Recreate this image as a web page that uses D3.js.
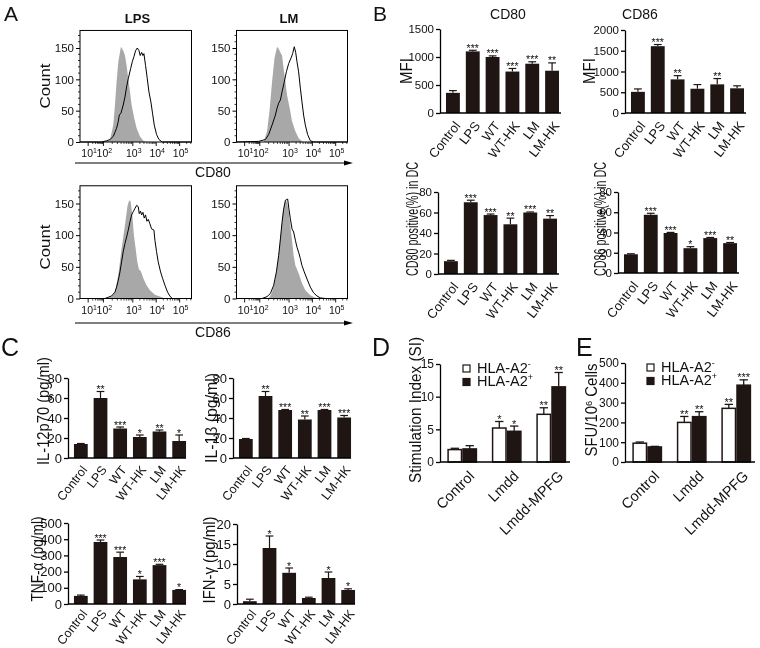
<!DOCTYPE html>
<html><head><meta charset="utf-8">
<script src="https://cdn.jsdelivr.net/npm/d3@7"></script>
<style>
body{margin:0;background:#fff;}
svg{will-change:transform;}
svg text{font-family:'Liberation Sans',Arial,sans-serif;fill:#111;}
</style></head><body>
<script>
// ---------------- DATA ----------------
// Panel A: flow cytometry histograms, [display channel (0-1024), count]
const histDecades = [1, 2, 3, 4, 5];
const histDecadeChannels = [75, 215, 485, 700, 915];
const histYTicks = [0, 50, 100, 150];
const lpsCD80Ctrl = [[0,0],[200,0],[240,1],[275,3],[306,27],[321,59],[336,96],[352,128],[376,152],[397,146],[413,138],[428,122],[443,101],[459,80],[474,59],[498,38],[520,22],[550,9],[581,2],[611,0],[1024,0]];
const lpsCD80Trt = [[0,0],[199,0],[245,2],[275,4],[306,9],[336,22],[352,33],[361,43],[376,46],[397,59],[413,72],[428,88],[443,101],[465,117],[480,128],[495,136],[511,146],[526,150],[541,146],[553,138],[566,143],[578,138],[587,141],[602,122],[618,101],[633,80],[651,64],[666,46],[682,27],[703,12],[725,4],[755,0],[1024,0]];
const lmCD80Ctrl = [[0,0],[251,0],[282,17],[307,54],[328,96],[350,133],[374,152],[389,149],[405,143],[420,138],[435,117],[451,96],[466,75],[491,54],[512,33],[543,17],[573,6],[604,1],[620,0],[1024,0]];
const lmCD80Trt = [[0,0],[205,1],[267,4],[297,12],[328,27],[359,43],[374,54],[389,62],[405,67],[420,80],[441,96],[460,112],[481,125],[503,134],[518,141],[533,152],[546,143],[558,128],[573,112],[589,86],[604,64],[619,43],[635,27],[656,12],[681,2],[711,0],[1024,0]];
const lpsCD86Ctrl = [[0,0],[230,0],[260,1],[290,3],[321,10],[352,37],[382,79],[413,116],[437,147],[452,155],[465,153],[480,132],[495,100],[511,79],[526,58],[541,46],[559,43],[581,32],[611,21],[642,13],[688,6],[734,3],[780,0],[1024,0]];
const lpsCD86Trt = [[0,0],[229,0],[260,2],[290,4],[321,10],[336,18],[352,29],[367,42],[382,58],[397,74],[413,87],[428,97],[443,108],[459,121],[474,132],[489,137],[504,142],[520,147],[535,145],[544,134],[556,138],[566,132],[578,136],[590,127],[602,132],[614,122],[627,125],[642,118],[657,110],[679,108],[688,92],[703,74],[718,58],[740,42],[758,32],[780,21],[804,10],[825,4],[847,0],[1024,0]];
const lmCD86Ctrl = [[0,0],[297,0],[328,10],[359,31],[389,68],[411,105],[429,137],[451,155],[466,152],[481,139],[497,115],[512,92],[527,68],[543,52],[558,46],[579,37],[604,24],[635,13],[681,5],[727,1],[757,0],[1024,0]];
const lmCD86Trt = [[0,0],[236,0],[282,3],[313,8],[343,21],[368,42],[389,68],[405,94],[420,120],[435,141],[451,155],[472,157],[484,141],[497,126],[512,110],[527,105],[543,92],[558,81],[573,73],[589,63],[604,52],[625,42],[650,31],[681,18],[711,9],[742,4],[773,1],[819,0],[1024,0]];

// Panels B, C
const treatGroups = ["Control","LPS","WT","WT-HK","LM","LM-HK"];
const cd80Mfi = [360,1100,1000,740,880,755];
const cd80MfiErr = [40,20,20,55,35,140];
const cd80MfiSig = ["","***","***","***","***","**"];
const cd86Mfi = [510,1610,810,585,690,595];
const cd86MfiErr = [70,40,90,100,140,60];
const cd86MfiSig = ["","***","**","","**",""];
const cd80Pos = [12.5,70,57.5,48.5,60,54];
const cd80PosErr = [0.8,2,1,6,0.5,3];
const cd80PosSig = ["","***","***","**","***","**"];
const cd86Pos = [18.5,57.5,39.5,24.5,34.5,29.5];
const cd86PosErr = [0.5,1.5,0.6,1.5,0.6,0.6];
const cd86PosSig = ["","***","***","*","***","**"];
const il12 = [14,60,29.5,21,26.5,17];
const il12Err = [0.5,6.5,1.5,2,1.5,6];
const il12Sig = ["","**","***","*","**","*"];
const il1b = [19,62,48,38.5,48,40.5];
const il1bErr = [0.5,4.5,0.5,3.5,0.5,2];
const il1bSig = ["","**","***","**","***","***"];
const tnf = [50,383,290,152,240,87];
const tnfErr = [5,12,30,18,5,2];
const tnfSig = ["","***","***","*","***","*"];
const ifn = [0.7,14,7.8,1.5,6.5,3.5];
const ifnErr = [0.5,3,1.2,0.2,1.5,0.3];
const ifnSig = ["","*","*","","*","*"];

// Panels D, E
const vaccineGroups = ["Control","Lmdd","Lmdd-MPFG"];
const hlaSeries = ["neg","pos"];
const siNeg = [1.9,5.2,7.3];
const siNegErr = [0.2,1.0,1.0];
const siNegSig = ["","*","**"];
const siPos = [2.0,4.7,11.5];
const siPosErr = [0.5,0.8,2.2];
const siPosSig = ["","*","**"];
const sfuNeg = [95,200,271];
const sfuNegErr = [6,30,20];
const sfuNegSig = ["","**","**"];
const sfuPos = [76,229,388];
const sfuPosErr = [3,25,27];
const sfuPosSig = ["","**","***"];

// ---------------- DRAWING ----------------
const BAR = "#1f1614";
const FONT = "'Liberation Sans',Arial,sans-serif";
const svg = d3.select("body").append("svg").attr("width",760).attr("height",648);
svg.append("rect").attr("width",760).attr("height",648).attr("fill","#fff");

function letter(t,x,y,size){
  svg.append("text").attr("x",x).attr("y",y).attr("font-size",size).text(t);
}
function yLabel(x,cy,size,len,build){
  const t = svg.append("text").attr("transform",`translate(${x},${cy}) rotate(-90)`)
    .attr("text-anchor","middle").attr("dy","0.35em").attr("font-size",size);
  build(t);
  if(len) t.attr("textLength",len).attr("lengthAdjust","spacingAndGlyphs");
  return t;
}
function supText(t, base, sup, rest){
  t.append("tspan").text(base);
  t.append("tspan").attr("dy","-0.45em").attr("font-size","0.62em").text(sup);
  if(rest) t.append("tspan").attr("dy","0.28em").text(rest);
}

// ---- Panel A ----
letter("A",4,21,21);
const histYMax = 178;
function histPanel(box, ctrl, trt){
  const g = svg.append("g");
  const x = d3.scaleLinear().domain([0,1024]).range([box.l, box.r]);
  const y = d3.scaleLinear().domain([0,150]).range([box.b, box.y150]);
  g.append("path").datum(ctrl)
    .attr("d", d3.area().x(d=>x(d[0])).y0(y(0)).y1(d=>y(d[1])))
    .attr("fill","#a8a8a8");
  g.append("path").datum(trt)
    .attr("d", d3.line().x(d=>x(d[0])).y(d=>y(d[1])))
    .attr("fill","none").attr("stroke","#000").attr("stroke-width",1);
  g.append("rect").attr("x",box.l).attr("y",y(histYMax)).attr("width",box.r-box.l)
    .attr("height",y(0)-y(histYMax)).attr("fill","none").attr("stroke","#000").attr("stroke-width",1);
  const ya = g.append("g").attr("transform",`translate(${box.l},0)`)
    .call(d3.axisLeft(y).tickValues(histYTicks).tickSize(4).tickPadding(2).tickFormat(d3.format("d")));
  ya.select(".domain").remove();
  ya.selectAll("text").attr("font-size",11.5).attr("font-family",FONT).attr("fill","#111");
  const minorY = d3.range(0,171,10).filter(v=>v%50!==0);
  g.selectAll("line.my").data(minorY).join("line")
    .attr("x1",box.l-2).attr("x2",box.l).attr("y1",d=>y(d)).attr("y2",d=>y(d))
    .attr("stroke","#000").attr("stroke-width",0.8);
  const minorX = [];
  for(let k=0;k<histDecades.length-1;k++){
    for(let m=2;m<10;m++){
      minorX.push(histDecadeChannels[k] + Math.log10(m)*(histDecadeChannels[k+1]-histDecadeChannels[k]));
    }
  }
  for(let m=2;m<10;m++){ const c = histDecadeChannels[4] + Math.log10(m)*215; if(c<1024) minorX.push(c); }
  g.selectAll("line.mx").data(minorX).join("line")
    .attr("x1",d=>x(d)).attr("x2",d=>x(d)).attr("y1",box.b).attr("y2",box.b+2)
    .attr("stroke","#000").attr("stroke-width",0.7);
  g.selectAll("line.Mx").data(histDecadeChannels).join("line")
    .attr("x1",d=>x(d)).attr("x2",d=>x(d)).attr("y1",box.b).attr("y2",box.b+4)
    .attr("stroke","#000").attr("stroke-width",0.9);
  histDecades.forEach((dec,i)=>{
    const t = g.append("text").attr("x",x(histDecadeChannels[i])+1).attr("y",box.b+15)
      .attr("text-anchor","middle").attr("font-size",10.5);
    t.append("tspan").text("10");
    t.append("tspan").attr("dy",-4).attr("font-size",7).text(String(dec));
  });
}
histPanel({l:80,r:191.5,b:142,y150:48}, lpsCD80Ctrl, lpsCD80Trt);
histPanel({l:236.5,r:347.5,b:142,y150:48}, lmCD80Ctrl, lmCD80Trt);
histPanel({l:80,r:191.5,b:298.5,y150:203.5}, lpsCD86Ctrl, lpsCD86Trt);
histPanel({l:236.5,r:347.5,b:298.5,y150:203.5}, lmCD86Ctrl, lmCD86Trt);
svg.append("text").attr("x",137.5).attr("y",23).attr("text-anchor","middle").attr("font-size",13).attr("font-weight","bold").text("LPS");
svg.append("text").attr("x",289).attr("y",23).attr("text-anchor","middle").attr("font-size",13).attr("font-weight","bold").text("LM");
yLabel(45,86,15,45,t=>t.text("Count"));
yLabel(45,247,15,45,t=>t.text("Count"));
function arrow(y,label){
  svg.append("line").attr("x1",75).attr("x2",346).attr("y1",y).attr("y2",y).attr("stroke","#000").attr("stroke-width",1);
  svg.append("path").attr("d",`M344,${y-2.5}L353,${y}L344,${y+2.5}Z`).attr("fill","#000");
  svg.append("text").attr("x",213).attr("y",y+14).attr("text-anchor","middle").attr("font-size",14).text(label);
}
arrow(163,"CD80");
arrow(323,"CD86");

// ---- Bar chart helper ----
function barChart(o){
  const g = svg.append("g");
  const y = d3.scaleLinear().domain([0,o.max]).range([o.y0,o.yTop]);
  const x = d3.scaleBand().domain(o.cats).range([o.ax+o.b0,o.ax+o.b1]).paddingInner(0.3).paddingOuter(0.1);
  const bw = x.bandwidth();
  const rows = o.cats.map((c,i)=>({c, v:o.vals[i], e:o.errs[i], s:o.sig[i]}));
  g.selectAll("line.err").data(rows).join("line")
    .attr("x1",d=>x(d.c)+bw/2).attr("x2",d=>x(d.c)+bw/2)
    .attr("y1",d=>y(d.v)).attr("y2",d=>y(d.v+d.e)).attr("stroke",BAR).attr("stroke-width",1.2);
  g.selectAll("line.cap").data(rows).join("line")
    .attr("x1",d=>x(d.c)+bw*0.22).attr("x2",d=>x(d.c)+bw*0.78)
    .attr("y1",d=>y(d.v+d.e)).attr("y2",d=>y(d.v+d.e)).attr("stroke",BAR).attr("stroke-width",1.2);
  g.selectAll("rect.bar").data(rows).join("rect")
    .attr("x",d=>x(d.c)).attr("y",d=>y(d.v)).attr("width",bw).attr("height",d=>y(0)-y(d.v)).attr("fill",BAR);
  g.selectAll("text.sig").data(rows).join("text")
    .attr("x",d=>x(d.c)+bw/2).attr("y",d=>y(d.v+d.e)+o.starDy).attr("text-anchor","middle")
    .attr("font-size",o.starSize).attr("fill","#111").text(d=>d.s);
  const ya = g.append("g").attr("transform",`translate(${o.ax},0)`)
    .call(d3.axisLeft(y).tickValues(o.ticks).tickSize(4).tickPadding(2).tickSizeOuter(0).tickFormat(d3.format("d")));
  ya.selectAll("path,line").attr("stroke","#000").attr("stroke-width",1.3);
  ya.selectAll("text").attr("font-size",o.tickSize).attr("font-family",FONT).attr("fill","#111");
  g.append("line").attr("x1",o.ax).attr("x2",o.ax+o.axLen).attr("y1",o.y0).attr("y2",o.y0).attr("stroke","#000").attr("stroke-width",1.3);
  g.selectAll("text.cat").data(o.cats).join("text")
    .attr("transform",d=>`translate(${x(d)+bw/2+o.catDx},${o.y0+o.catDy}) rotate(${o.catAngle})`)
    .attr("text-anchor","end").attr("font-size",o.catSize).text(d=>d);
}

// ---- Panel B ----
letter("B",373,21,21);
svg.append("text").attr("x",508).attr("y",19).attr("text-anchor","middle").attr("font-size",14).text("CD80");
svg.append("text").attr("x",640).attr("y",19).attr("text-anchor","middle").attr("font-size",14).text("CD86");
const bCommon = {cats:treatGroups,b0:4,b1:121,axLen:121,tickSize:11.5,starSize:10.5,starDy:1.5,catDx:8,catDy:13,catAngle:-52,catSize:13};
barChart({...bCommon,ax:440,y0:113,yTop:29,max:1500,ticks:[0,500,1000,1500],vals:cd80Mfi,errs:cd80MfiErr,sig:cd80MfiSig});
barChart({...bCommon,ax:625,y0:113,yTop:30,max:2000,ticks:[0,500,1000,1500,2000],vals:cd86Mfi,errs:cd86MfiErr,sig:cd86MfiSig});
barChart({...bCommon,ax:438,y0:274,yTop:192,max:80,ticks:[0,20,40,60,80],vals:cd80Pos,errs:cd80PosErr,sig:cd80PosSig});
barChart({...bCommon,ax:618,y0:273,yTop:192,max:80,ticks:[0,20,40,60,80],vals:cd86Pos,errs:cd86PosErr,sig:cd86PosSig});
yLabel(406,71,16,26,t=>t.text("MFI"));
yLabel(589,71,16,26,t=>t.text("MFI"));
yLabel(412,219,16,114,t=>t.text("CD80 positive(%) in DC"));
yLabel(600,219,16,114,t=>t.text("CD86 positive(%) in DC"));

// ---- Panel C ----
letter("C",1,356,25);
const cCommon = {cats:treatGroups,b0:4,b1:120,axLen:118,tickSize:13,starSize:10.5,starDy:1.5,catDx:7,catDy:12,catAngle:-52,catSize:12.5};
barChart({...cCommon,ax:68,y0:458,yTop:378,max:80,ticks:[0,20,40,60,80],vals:il12,errs:il12Err,sig:il12Sig});
barChart({...cCommon,ax:233,y0:458,yTop:378,max:80,ticks:[0,20,40,60,80],vals:il1b,errs:il1bErr,sig:il1bSig});
barChart({...cCommon,ax:68,y0:604,yTop:523,max:500,ticks:[0,100,200,300,400,500],vals:tnf,errs:tnfErr,sig:tnfSig,catDy:10});
barChart({...cCommon,ax:237,y0:604,yTop:524,max:20,ticks:[0,5,10,15,20],vals:ifn,errs:ifnErr,sig:ifnSig,catDy:10});
yLabel(43,411,16.5,108,t=>t.text("IL-12p70 (pg/ml)"));
yLabel(211,418,16.5,90,t=>t.text("IL-1β (pg/ml)"));
yLabel(37,559,16.5,85,t=>t.text("TNF-α (pg/ml)"));
yLabel(209,560,16.5,87,t=>t.text("IFN-γ (pg/ml)"));

// ---- Grouped bar helper (D, E) ----
function groupChart(o){
  const g = svg.append("g");
  const y = d3.scaleLinear().domain([0,o.max]).range([o.y0,o.yTop]);
  const x = d3.scaleBand().domain(vaccineGroups).range([o.ax,o.ax+133.5]).paddingInner(0.33).paddingOuter(0.165);
  const xs = d3.scaleBand().domain(hlaSeries).range([0,x.bandwidth()]);
  const bw = xs.bandwidth();
  const rows = [];
  vaccineGroups.forEach((c,i)=>{
    rows.push({c,s:"neg",v:o.neg[i],e:o.negErr[i],sig:o.negSig[i]});
    rows.push({c,s:"pos",v:o.pos[i],e:o.posErr[i],sig:o.posSig[i]});
  });
  const bx = d=>x(d.c)+xs(d.s);
  g.selectAll("line.err").data(rows).join("line")
    .attr("x1",d=>bx(d)+bw/2).attr("x2",d=>bx(d)+bw/2)
    .attr("y1",d=>y(d.v)).attr("y2",d=>y(d.v+d.e)).attr("stroke",BAR).attr("stroke-width",1.3);
  g.selectAll("line.cap").data(rows).join("line")
    .attr("x1",d=>bx(d)+bw*0.22).attr("x2",d=>bx(d)+bw*0.78)
    .attr("y1",d=>y(d.v+d.e)).attr("y2",d=>y(d.v+d.e)).attr("stroke",BAR).attr("stroke-width",1.3);
  g.selectAll("rect.bar").data(rows).join("rect")
    .attr("x",d=>bx(d)+0.75).attr("y",d=>y(d.v)).attr("width",bw-1.5).attr("height",d=>y(0)-y(d.v))
    .attr("fill",d=>d.s==="neg"?"#fff":BAR).attr("stroke",BAR).attr("stroke-width",1.5);
  g.selectAll("text.sig").data(rows).join("text")
    .attr("x",d=>bx(d)+bw/2).attr("y",d=>y(d.v+d.e)+1.5).attr("text-anchor","middle")
    .attr("font-size",11).attr("fill","#111").text(d=>d.sig);
  const ya = g.append("g").attr("transform",`translate(${o.ax},0)`)
    .call(d3.axisLeft(y).tickValues(o.ticks).tickSize(4).tickPadding(2).tickSizeOuter(0).tickFormat(d3.format("d")));
  ya.selectAll("path,line").attr("stroke","#000").attr("stroke-width",1.3);
  ya.selectAll("text").attr("font-size",12).attr("font-family",FONT).attr("fill","#111");
  g.append("line").attr("x1",o.ax).attr("x2",o.ax+130).attr("y1",o.y0).attr("y2",o.y0).attr("stroke","#000").attr("stroke-width",1.3);
  g.selectAll("text.cat").data(vaccineGroups).join("text")
    .attr("transform",d=>`translate(${x(d)+x.bandwidth()/2+13},${o.y0+15}) rotate(-45)`)
    .attr("text-anchor","end").attr("font-size",14.5).text(d=>d);
  [["neg","-"],["pos","+"]].forEach(([s,sym],i)=>{
    const ly = o.legY + i*13.5;
    g.append("rect").attr("x",o.legX).attr("y",ly-7).attr("width",7).attr("height",7)
      .attr("fill",s==="neg"?"#fff":BAR).attr("stroke",BAR).attr("stroke-width",1.2);
    const t = g.append("text").attr("x",o.legX+14).attr("y",ly+0.5).attr("font-size",14.5);
    t.append("tspan").text("HLA-A2");
    t.append("tspan").attr("dy",-6).attr("font-size",9).text(sym);
  });
}
letter("D",372,356,25);
groupChart({ax:440,y0:462,yTop:364,max:15,ticks:[0,5,10,15],neg:siNeg,negErr:siNegErr,negSig:siNegSig,pos:siPos,posErr:siPosErr,posSig:siPosSig,legX:463,legY:372});
yLabel(415,410,16,146,t=>t.text("Stimulation Index (SI)"));
letter("E",576,356,25);
groupChart({ax:625,y0:462,yTop:363,max:500,ticks:[0,100,200,300,400,500],neg:sfuNeg,negErr:sfuNegErr,negSig:sfuNegSig,pos:sfuPos,posErr:sfuPosErr,posSig:sfuPosSig,legX:647,legY:371});
yLabel(591,410,16,93,t=>supText(t,"SFU/10","6"," Cells"));
</script>
</body></html>
